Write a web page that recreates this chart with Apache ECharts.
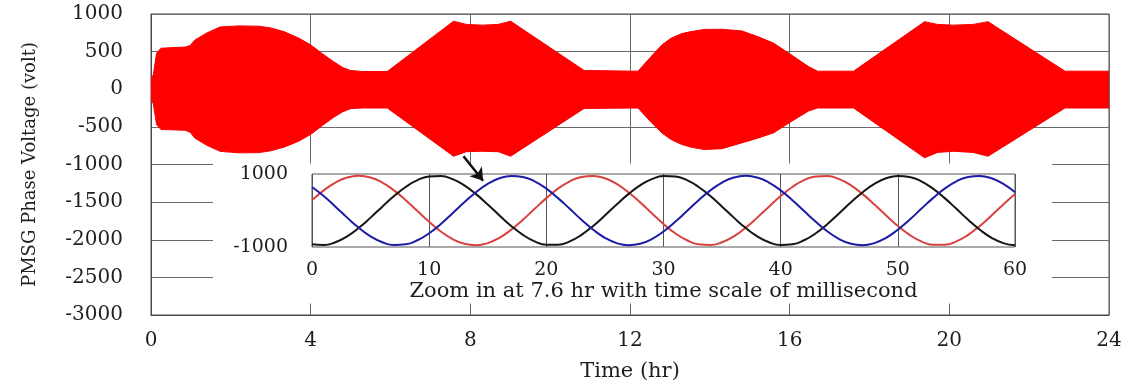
<!DOCTYPE html>
<html>
<head>
<meta charset="utf-8">
<style>
  html, body { margin: 0; padding: 0; background: #ffffff; }
  #chart { width: 1132px; height: 389px; }
</style>
<script src="https://cdn.jsdelivr.net/npm/echarts@6/dist/echarts.min.js"></script>
</head>
<body>
<div id="chart"></div>
<script>
// ---------------- Main chart: PMSG phase voltage envelope over 24 h ----------------
const timeHr = [0, 0.06, 0.14, 0.25, 0.6, 0.85, 0.98, 1.1, 1.4, 1.73, 2.2, 2.7, 3.0, 3.33, 3.7,
  4.0, 4.3, 4.57, 4.8, 5.0, 5.3, 5.92, 7.58, 7.9, 8.3, 8.7, 9.01, 10.85, 12.2, 12.53,
  12.8, 13.03, 13.3, 13.53, 13.86, 14.3, 14.8, 15.2, 15.6, 16.04, 16.47, 16.7, 17.6, 19.38, 19.7,
  20.1, 20.6, 20.97, 22.9, 24.0];
const envelopeUpper = [120, 200, 480, 545, 555, 560, 580, 655, 748, 828, 842, 838, 815, 766, 680,
  590, 470, 368, 290, 250, 236, 236, 905, 862, 852, 862, 905, 250, 240, 435,
  590, 678, 740, 766, 795, 797, 775, 700, 612, 457, 302, 240, 240, 898, 862,
  852, 862, 898, 240, 240];
const envelopeLower = [-120, -200, -470, -536, -540, -545, -570, -650, -745, -825, -845, -842, -818, -770, -690,
  -600, -480, -375, -300, -258, -249, -249, -890, -830, -824, -830, -890, -255, -249, -440,
  -580, -669, -735, -770, -801, -790, -713, -650, -579, -430, -290, -249, -249, -911, -840,
  -824, -840, -890, -249, -249];
const mainXTicks = [0, 4, 8, 12, 16, 20, 24];
const mainYTicks = [1000, 500, 0, -500, -1000, -1500, -2000, -2500, -3000];

// Arrow annotation (from the 7.6 h region of the band down to the inset), in data units
const arrowFrom = [7.83, -890];
const arrowTo = [8.32, -1215];

// ---------------- Inset: zoom at 7.6 hr, millisecond scale ----------------
const msTime = [0,1,2,3,4,5,6,7,8,9,10,11,12,13,14,15,16,17,18,19,20,21,22,23,24,25,26,27,28,29,
  30,31,32,33,34,35,36,37,38,39,40,41,42,43,44,45,46,47,48,49,50,51,52,53,54,55,56,57,58,59,60];
const phaseRed = [282, 551, 765, 903, 950, 903, 765, 551, 282, -15,
  -311, -575, -783, -912, -950, -893, -747, -526, -253, 45,
  339, 599, 799, 920, 948, 882, 728, 501, 224, -75,
  -367, -622, -815, -926, -946, -870, -708, -475, -195, 105,
  395, 645, 830, 933, 942, 858, 688, 449, 165, -135,
  -422, -666, -845, -938, -938, -845, -666, -422, -135, 165, 449];
const phaseBlack = [-926, -946, -870, -708, -475, -195, 105, 395, 645, 830,
  933, 942, 858, 688, 449, 165, -135, -422, -666, -845,
  -938, -938, -845, -666, -422, -135, 165, 449, 688, 858,
  942, 933, 830, 645, 395, 105, -195, -475, -708, -870,
  -946, -926, -815, -622, -367, -75, 224, 501, 728, 882,
  948, 920, 799, 599, 339, 45, -253, -526, -747, -893, -950];
const phaseBlue = [645, 395, 105, -195, -475, -708, -870, -946, -926, -815,
  -622, -367, -75, 224, 501, 728, 882, 948, 920, 799,
  599, 339, 45, -253, -526, -747, -893, -950, -912, -783,
  -575, -311, -15, 282, 551, 765, 903, 950, 903, 765,
  551, 282, -15, -311, -575, -783, -912, -950, -893, -747,
  -526, -253, 45, 339, 599, 799, 920, 948, 882, 728, 501];
const insetXTicks = [0, 10, 20, 30, 40, 50, 60];
const insetYTicks = [-1000, 1000];

const yTitle = 'PMSG Phase Voltage (volt)';
const xTitle = 'Time (hr)';
const insetTitle = 'Zoom in at 7.6 hr with time scale of millisecond';

// ---------------- build ----------------
const FONT = 'DejaVu Serif';
const TXT = '#1e1e1e';
const GRIDC = '#6a6a6a';
const plain = v => String(v);

const chart = echarts.init(document.getElementById('chart'), null, { renderer: 'canvas' });

chart.setOption({
  animation: false,
  backgroundColor: '#ffffff',
  grid: [
    { left: 151, right: 23, top: 14, bottom: 74, show: true, borderColor: '#4a4a4a', borderWidth: 1, containLabel: false },
    { left: 312, right: 117, top: 174, bottom: 142, show: true, borderColor: '#555555', borderWidth: 1, backgroundColor: '#ffffff', z: 3, containLabel: false }
  ],
  xAxis: [
    {
      gridIndex: 0, type: 'value', min: mainXTicks[0], max: mainXTicks[mainXTicks.length - 1], interval: 4,
      name: xTitle, nameLocation: 'middle', nameGap: 46,
      nameTextStyle: { fontFamily: FONT, fontSize: 21, color: TXT },
      axisLine: { show: true, onZero: false, lineStyle: { color: '#4a4a4a', width: 1 } },
      axisTick: { show: false },
      axisLabel: { fontFamily: FONT, fontSize: 20, color: TXT, margin: 16, formatter: plain },
      splitLine: { show: true, lineStyle: { color: GRIDC, width: 1 } }
    },
    {
      gridIndex: 1, type: 'value', min: insetXTicks[0], max: insetXTicks[insetXTicks.length - 1], interval: 10, z: 3,
      name: insetTitle, nameLocation: 'middle', nameGap: 33,
      nameTextStyle: { fontFamily: FONT, fontSize: 21, color: TXT },
      axisLine: { show: false },
      axisTick: { show: false },
      axisLabel: { fontFamily: FONT, fontSize: 19, color: TXT, margin: 14, formatter: plain },
      splitLine: { show: true, lineStyle: { color: '#555555', width: 1 } }
    }
  ],
  yAxis: [
    {
      gridIndex: 0, type: 'value', min: mainYTicks[mainYTicks.length - 1], max: mainYTicks[0], interval: 500,
      name: yTitle, nameLocation: 'middle', nameGap: 112,
      nameTextStyle: { fontFamily: FONT, fontSize: 18, color: TXT },
      axisLine: { show: true, onZero: false, lineStyle: { color: '#4a4a4a', width: 1 } },
      axisTick: { show: false },
      axisLabel: { fontFamily: FONT, fontSize: 20, color: TXT, margin: 28, formatter: plain },
      splitLine: { show: true, lineStyle: { color: GRIDC, width: 1 } }
    },
    {
      gridIndex: 1, type: 'value', min: insetYTicks[0], max: insetYTicks[1], interval: 2000, z: 3,
      axisLine: { show: false },
      axisTick: { show: false },
      axisLabel: { fontFamily: FONT, fontSize: 19, color: TXT, margin: 24, formatter: plain },
      splitLine: { show: false }
    }
  ],
  graphic: {
    elements: [
      { type: 'rect', z: 1, silent: true, shape: { x: 213, y: 163.5, width: 839, height: 140 }, style: { fill: '#ffffff' } }
    ]
  },
  series: [
    {
      type: 'line', xAxisIndex: 0, yAxisIndex: 0, z: 2,
      data: timeHr.map((t, i) => [t, envelopeUpper[i]]), showSymbol: false, symbol: 'none',
      lineStyle: { width: 1, color: '#fa0000' },
      areaStyle: { color: '#fe0000', opacity: 1, origin: -30 },
      silent: true,
      markLine: {
        silent: true, symbol: ['none', 'arrow'], symbolSize: 12,
        label: { show: false },
        lineStyle: { color: '#111111', width: 2.5, type: 'solid' },
        data: [[{ coord: arrowFrom }, { coord: arrowTo }]]
      }
    },
    {
      type: 'line', xAxisIndex: 0, yAxisIndex: 0, z: 2,
      data: timeHr.map((t, i) => [t, envelopeLower[i]]), showSymbol: false, symbol: 'none',
      lineStyle: { width: 1, color: '#fa0000' },
      areaStyle: { color: '#fe0000', opacity: 1, origin: 30 },
      silent: true
    },
    {
      type: 'line', xAxisIndex: 1, yAxisIndex: 1, z: 5, smooth: true,
      data: msTime.map((t, i) => [t, phaseRed[i]]), showSymbol: false, symbol: 'none',
      lineStyle: { width: 2, color: '#d8423e' }, silent: true
    },
    {
      type: 'line', xAxisIndex: 1, yAxisIndex: 1, z: 5, smooth: true,
      data: msTime.map((t, i) => [t, phaseBlack[i]]), showSymbol: false, symbol: 'none',
      lineStyle: { width: 2, color: '#151515' }, silent: true
    },
    {
      type: 'line', xAxisIndex: 1, yAxisIndex: 1, z: 5, smooth: true,
      data: msTime.map((t, i) => [t, phaseBlue[i]]), showSymbol: false, symbol: 'none',
      lineStyle: { width: 2, color: '#1c1ca6' }, silent: true
    }
  ]
});
</script>
</body>
</html>
